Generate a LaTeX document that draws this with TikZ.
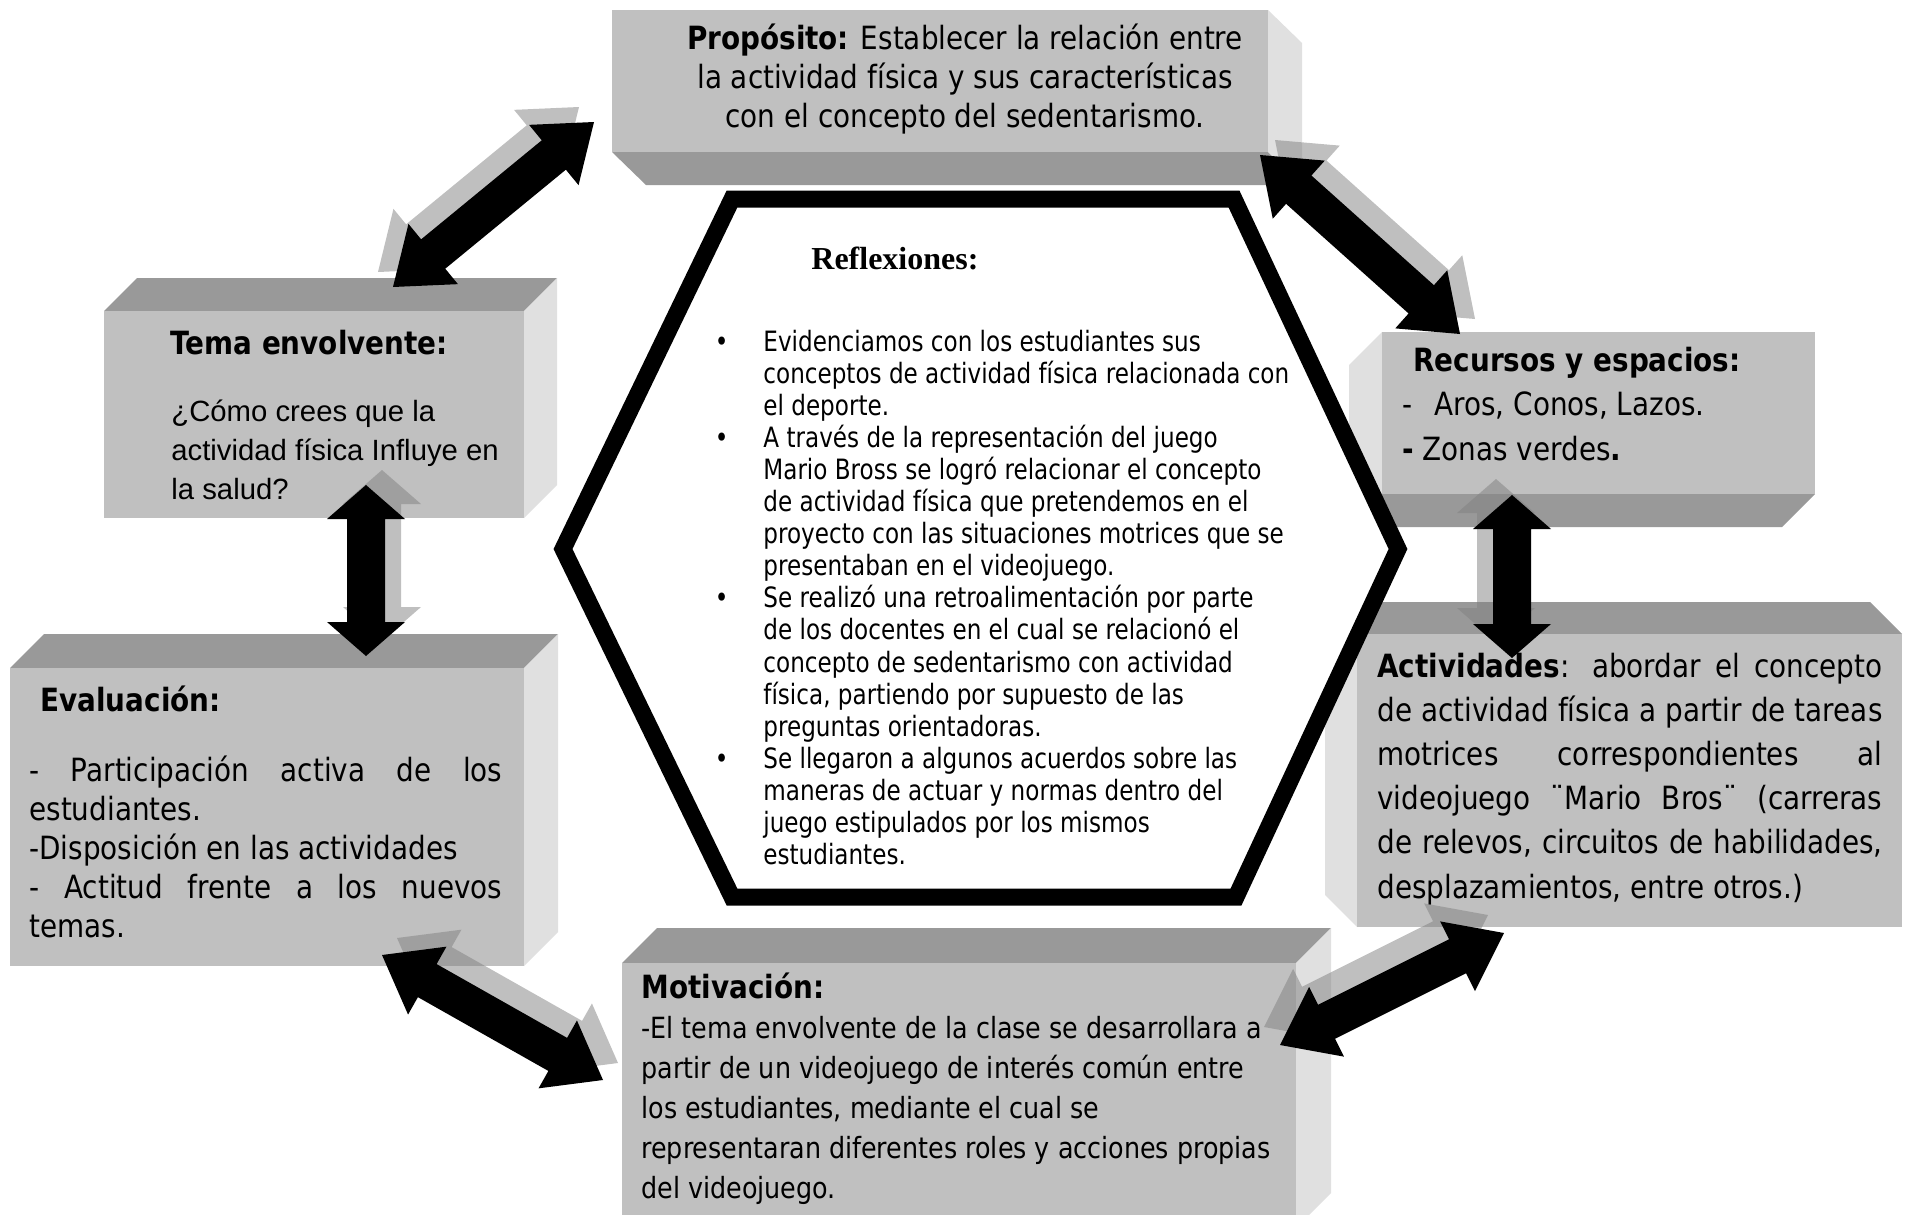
\documentclass[tikz,border=0pt]{standalone}
\usepackage{fontspec}
\usetikzlibrary{calc}
\newfontfamily\tah[FakeStretch=0.87]{DejaVu Sans}
\newfontfamily\tahc[FakeStretch=0.825]{DejaVu Sans}
\newfontfamily\ari{Liberation Sans}
\newfontfamily\tnr{Liberation Serif}
\definecolor{frontc}{gray}{0.753}
\definecolor{hfc}{gray}{0.6}
\definecolor{sidec}{gray}{0.88}
\definecolor{shadowc}{gray}{0.5}
% double block arrow: from, to, style, head length, head half-width, shaft half-width
\newcommand\dblarr[6]{%
  \path ($(#1)!#4!(#2)$) coordinate (ha) ($(#2)!#4!(#1)$) coordinate (hb);
  \fill[#3] (#1) -- ($(ha)!#5!90:(#2)$) -- ($(ha)!#6!90:(#2)$)
     -- ($(hb)!#6!-90:(#1)$) -- ($(hb)!#5!-90:(#1)$) -- (#2)
     -- ($(hb)!#5!90:(#1)$) -- ($(hb)!#6!90:(#1)$)
     -- ($(ha)!#6!-90:(#2)$) -- ($(ha)!#5!-90:(#2)$) -- cycle;}
\newcommand\bul{\leavevmode\llap{•\hspace{17.5pt}}}
\begin{document}
\begin{tikzpicture}[x=0.5pt,y=-0.5pt,
  front/.style={fill=frontc},
  hface/.style={fill=hfc},
  sface/.style={fill=sidec},
  blk/.style={fill=black},
  shd/.style={fill=shadowc,fill opacity=0.5},
  hexa/.style={draw=black,line width=8.5pt,fill=white,line join=miter},
  txt/.style={inner sep=0pt,anchor=base west,text=black}]
\fill[white] (0,0) rectangle (1912,1215);
\useasboundingbox (0,0) rectangle (1912,1215);

% Propósito box
\fill[hface] (612,152) -- (1268,152) -- (1302,185) -- (646,185) -- cycle;
\fill[sface] (1268,10) -- (1302,43) -- (1302,185) -- (1268,152) -- cycle;
\fill[front] (612,10) rectangle (1268,152);
% Tema envolvente box
\fill[hface] (104,311) -- (524,311) -- (557,278) -- (137,278) -- cycle;
\fill[sface] (524,311) -- (557,278) -- (557,485) -- (524,518) -- cycle;
\fill[front] (104,311) rectangle (524,518);
% Evaluación box
\fill[hface] (10,668) -- (524,668) -- (558,634) -- (44,634) -- cycle;
\fill[sface] (524,668) -- (558,634) -- (558,932) -- (524,966) -- cycle;
\fill[front] (10,668) rectangle (524,966);
% Recursos box
\fill[hface] (1382,494) -- (1815,494) -- (1782,527) -- (1349,527) -- cycle;
\fill[sface] (1382,332) -- (1349,365) -- (1349,527) -- (1382,494) -- cycle;
\fill[front] (1382,332) rectangle (1815,494);
% Actividades box
\fill[hface] (1357,634) -- (1902,634) -- (1870,602) -- (1325,602) -- cycle;
\fill[sface] (1357,634) -- (1325,602) -- (1325,895) -- (1357,927) -- cycle;
\fill[front] (1357,634) rectangle (1902,927);
% Motivación box
\fill[hface] (622,963) -- (1296,963) -- (1331,928) -- (657,928) -- cycle;
\fill[sface] (1296,963) -- (1331,928) -- (1331,1193) -- (1296,1228) -- cycle;
\fill[front] (622,963) rectangle (1296,1228);

% Hexagon
\draw[hexa] (732,199) -- (1234,199) -- (1398,549) -- (1236,897) -- (732,897) -- (563,549) -- cycle;

% Texts
\node[txt,anchor=base] (prop) at (965,49) {\parbox[t]{320pt}{\centering\tah\fontsize{16pt}{19.5pt}\selectfont
 \textbf{Propósito:} Establecer la relación entre\\
 la actividad física y sus características\\
 con el concepto del sedentarismo.}};

\node[txt] (temah) at (170,354) {\tah\fontsize{16pt}{19.5pt}\selectfont\textbf{Tema envolvente:}};
\node[txt] (temab) at (171,421) {\parbox[t]{200pt}{\raggedright\ari\fontsize{14.65pt}{19.5pt}\selectfont
 ¿Cómo crees que la\\
 actividad física Influye en\\
 la salud?}};

\node[txt] (evalh) at (40,711) {\tah\fontsize{16pt}{19.5pt}\selectfont\textbf{Evaluación:}};
\node[txt] (evalb) at (29,781) {\parbox[t]{236.5pt}{\raggedright\tah\fontsize{16pt}{19.5pt}\selectfont
 \makebox[\linewidth][s]{- Participación activa de los}\\
 estudiantes.\\
 -Disposición en las actividades\\
 \makebox[\linewidth][s]{- Actitud frente a los nuevos}\\
 temas.}};

\node[txt] (rech) at (1413,371) {\tah\fontsize{16pt}{19.5pt}\selectfont\textbf{Recursos y espacios:}};
\node[txt] (recb) at (1402,415) {\parbox[t]{200pt}{\raggedright\tah\fontsize{16pt}{22.5pt}\selectfont
 -\hspace{11pt}Aros, Conos, Lazos.\\
 \textbf{-} Zonas verdes\textbf{.}}};

\node[txt] (actb) at (1377,677) {\parbox[t]{252.5pt}{\raggedright\tah\fontsize{16pt}{22.1pt}\selectfont
 \makebox[\linewidth][s]{\textbf{Actividades}: abordar el concepto}\\
 \makebox[\linewidth][s]{de actividad física a partir de tareas}\\
 \makebox[\linewidth][s]{motrices correspondientes al}\\
 \makebox[\linewidth][s]{videojuego ¨Mario Bros¨ (carreras}\\
 \makebox[\linewidth][s]{de relevos, circuitos de habilidades,}\\
 desplazamientos, entre otros.)}};

\node[txt] (motb) at (641,998) {\parbox[t]{330pt}{\raggedright\tah\fontsize{14.6pt}{20pt}\selectfont
 {\fontsize{16pt}{20pt}\selectfont\textbf{Motivación:}}\\
 -El tema envolvente de la clase se desarrollara a\\
 partir de un videojuego de interés común entre\\
 los estudiantes, mediante el cual se\\
 representaran diferentes roles y acciones propias\\
 del videojuego.}};

\node[txt] (refh) at (811,269) {\tnr\fontsize{16pt}{19pt}\selectfont\textbf{Reflexiones:}};
\node[txt] (refb) at (763,351) {\parbox[t]{300pt}{\raggedright\tahc\fontsize{14pt}{16.05pt}\selectfont
 \bul Evidenciamos con los estudiantes sus\\
 conceptos de actividad física relacionada con\\
 el deporte.\\
 \bul A través de la representación del juego\\
 Mario Bross se logró relacionar el concepto\\
 de actividad física que pretendemos en el\\
 proyecto con las situaciones motrices que se\\
 presentaban en el videojuego.\\
 \bul Se realizó una retroalimentación por parte\\
 de los docentes en el cual se relacionó el\\
 concepto de sedentarismo con actividad\\
 física, partiendo por supuesto de las\\
 preguntas orientadoras.\\
 \bul Se llegaron a algunos acuerdos sobre las\\
 maneras de actuar y normas dentro del\\
 juego estipulados por los mismos\\
 estudiantes.}};

% Arrow end points
\coordinate (A1) at (594,122);  \coordinate (A2) at (393,287);
\coordinate (B1) at (1260,155); \coordinate (B2) at (1460,334);
\coordinate (C1) at (366,485);  \coordinate (C2) at (366,656);
\coordinate (D1) at (1512,495); \coordinate (D2) at (1512,658);
\coordinate (E1) at (382,955);  \coordinate (E2) at (603,1080);
\coordinate (F1) at (1504,933); \coordinate (F2) at (1280,1045);
% shadow copies
\coordinate (A1s) at ($(A1)+(-15,-15)$); \coordinate (A2s) at ($(A2)+(-15,-15)$);
\coordinate (B1s) at ($(B1)+(15,-15)$);  \coordinate (B2s) at ($(B2)+(15,-15)$);
\coordinate (C1s) at ($(C1)+(16,-15)$);  \coordinate (C2s) at ($(C2)+(16,-15)$);
\coordinate (D1s) at ($(D1)+(-16,-16)$); \coordinate (D2s) at ($(D2)+(-16,-16)$);
\coordinate (E1s) at ($(E1)+(15,-17)$);  \coordinate (E2s) at ($(E2)+(15,-17)$);
\coordinate (F1s) at ($(F1)+(-16,-18)$); \coordinate (F2s) at ($(F2)+(-16,-18)$);

\dblarr{A1s}{A2s}{shd}{26pt}{19.5pt}{9.5pt}
\dblarr{B1s}{B2s}{shd}{26pt}{19.5pt}{9.5pt}
\dblarr{C1s}{C2s}{shd}{17pt}{19.5pt}{9.5pt}
\dblarr{D1s}{D2s}{shd}{17pt}{19.5pt}{9.5pt}
\dblarr{E1s}{E2s}{shd}{26pt}{19.5pt}{9.5pt}
\dblarr{F1s}{F2s}{shd}{26pt}{19.5pt}{9.5pt}

\dblarr{A1}{A2}{blk}{26pt}{19.5pt}{9.5pt}
\dblarr{B1}{B2}{blk}{26pt}{19.5pt}{9.5pt}
\dblarr{C1}{C2}{blk}{17pt}{19.5pt}{9.5pt}
\dblarr{D1}{D2}{blk}{17pt}{19.5pt}{9.5pt}
\dblarr{E1}{E2}{blk}{26pt}{19.5pt}{9.5pt}
\dblarr{F1}{F2}{blk}{26pt}{19.5pt}{9.5pt}
\end{tikzpicture}
\end{document}
